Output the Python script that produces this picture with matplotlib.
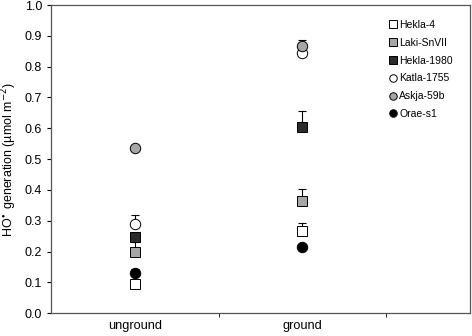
import matplotlib.pyplot as plt

plt.rcParams['font.family'] = ['Liberation Sans', 'DejaVu Sans']
plt.rcParams['mathtext.fontset'] = 'dejavusans'

categories = ['unground', 'ground']
samples = ['Hekla-4', 'Laki-SnVII', 'Hekla-1980', 'Katla-1755', 'Askja-59b', 'Orae-s1']
values = {
    'Hekla-4':    [0.095, 0.266],
    'Laki-SnVII': [0.197, 0.364],
    'Hekla-1980': [0.246, 0.605],
    'Katla-1755': [0.289, 0.844],
    'Askja-59b':  [0.535, 0.866],
    'Orae-s1':    [0.129, 0.216],
}
errors = {
    'Hekla-4':    [0.0, 0.027],
    'Laki-SnVII': [0.035, 0.038],
    'Hekla-1980': [0.0, 0.050],
    'Katla-1755': [0.030, 0.0],
    'Askja-59b':  [0.0, 0.022],
    'Orae-s1':    [0.014, 0.0],
}
styles = {
    'Hekla-4':    ('s', 'white'),
    'Laki-SnVII': ('s', '#a6a6a6'),
    'Hekla-1980': ('s', '#2b2b2b'),
    'Katla-1755': ('o', 'white'),
    'Askja-59b':  ('o', '#a6a6a6'),
    'Orae-s1':    ('o', 'black'),
}

fig = plt.figure(figsize=(4.72, 3.36), dpi=100)
ax = fig.add_axes([0.108, 0.068, 0.888, 0.917])

x = [1, 2]
# draw order so overlaps look like the reference
for name in ['Katla-1755', 'Askja-59b', 'Laki-SnVII', 'Hekla-1980', 'Hekla-4', 'Orae-s1']:
    mk, fc = styles[name]
    ax.errorbar(x, values[name], yerr=[[0, 0], errors[name]], fmt='none',
                ecolor='black', elinewidth=0.8, capsize=3, capthick=0.8, zorder=2)
    ax.plot(x, values[name], linestyle='none', marker=mk, markersize=7.5,
            markerfacecolor=fc, markeredgecolor='black', markeredgewidth=0.7,
            label=name, zorder=3)

ax.set_xlim(0.5, 3.0)
ax.set_ylim(0, 1.0)
ax.set_yticks([i / 10 for i in range(11)])
ax.set_yticklabels(['%.1f' % (i / 10) for i in range(11)])
ax.set_xticks(x)
ax.set_xticklabels(categories)
ax.set_xticks([1.5, 2.5], minor=True)
ax.tick_params(axis='x', which='major', length=0, pad=5, labelsize=9.2)
ax.tick_params(axis='x', which='minor', length=3, width=0.6, direction='out')
ax.tick_params(axis='y', length=3, width=0.8, labelsize=9)
ax.set_ylabel(r'HO$^{\bullet}$ generation (µmol m$^{-2}$)', fontsize=9, labelpad=4)

for s in ax.spines.values():
    s.set_color('#555555')
    s.set_linewidth(0.9)

handles, labels = ax.get_legend_handles_labels()
order = [labels.index(n) for n in samples]
leg = ax.legend([handles[i] for i in order], [labels[i] for i in order],
                loc='upper left', bbox_to_anchor=(0.786, 0.982), frameon=False,
                fontsize=7.5, markerscale=0.72, handlelength=0.6, handletextpad=0.3,
                labelspacing=0.75, numpoints=1)

fig.savefig('out.png', dpi=100)
